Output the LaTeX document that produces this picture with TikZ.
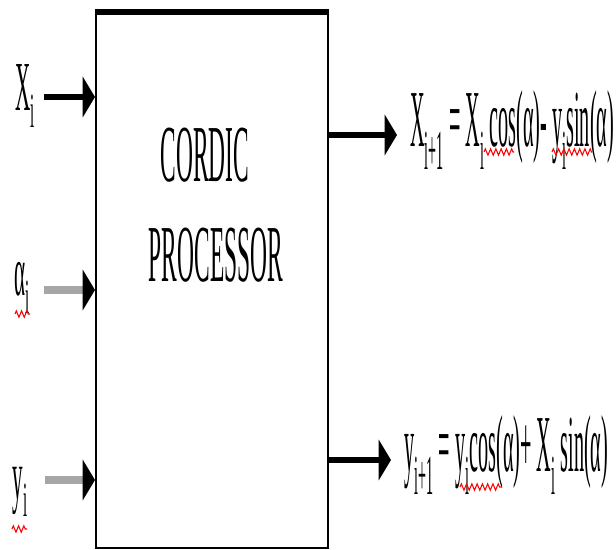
\documentclass[tikz,border=0pt]{standalone}
\usepackage{fontspec}
\usepackage{graphicx}
\setmainfont{Liberation Serif}
\usetikzlibrary{arrows.meta,decorations.pathmorphing,positioning}

% squeeze text sideways, the letters in the figure are tall and narrow
\newcommand{\narrow}[2][0.3]{\scalebox{#1}[1]{#2}}

\tikzset{
    procbox/.style={draw, line width=1.2pt, minimum width=4.64cm, minimum height=10.7cm, inner sep=0pt},
    title/.style={inner sep=0pt, font=\fontsize{46}{50}\selectfont},
    sig/.style={inner sep=0pt, font=\fontsize{40}{44}\selectfont},
    eqn/.style={inner sep=0pt, anchor=west, font=\fontsize{46}{50}\selectfont},
    inarrow/.style={line width=3.2pt, -{Triangle[length=7pt, width=23pt]}},
    grayarrow/.style={line width=4.5pt, gray!70, -{Triangle[length=7pt, width=23pt, color=black]}},
    spell/.style={red, line width=0.6pt, decorate, decoration={zigzag, amplitude=1.8pt, segment length=3pt}}
}

\begin{document}
\begin{tikzpicture}[x=0.02cm, y=-0.02cm]
    \useasboundingbox (0,0) rectangle (616,550);

    % Processor block
    \node[procbox] (proc) at (212,280.5) {};
    \draw[line width=3pt] (proc.north west) -- (proc.north east);
    \node[title] (cordic) at (205,155) {\narrow[0.29]{CORDIC}};
    \node[title] (processor) at (216,255) {\narrow[0.29]{PROCESSOR}};

    % Inputs
    \node[sig] (xin) at (25,96) {\narrow{X\textsubscript{i}}};
    \node[sig] (ain) at (22,288) {\narrow{α\textsubscript{i}}};
    \node[sig] (yin) at (20,492) {\narrow{y\textsubscript{i}}};
    \draw[inarrow] ([xshift=5pt]xin.east |- 0,97) -- (proc.west |- 0,97);
    \draw[grayarrow] ([xshift=8pt]ain.east |- 0,290) -- (proc.west |- 0,290);
    \draw[grayarrow] ([xshift=10pt]yin.east |- 0,480) -- (proc.west |- 0,480);

    % Outputs
    \node[eqn] (xnext) at (410,130) {\narrow[0.25]{X\textsubscript{i+1} = X\textsubscript{i} cos(α)- y\textsubscript{i}sin(α)}};
    \node[eqn] (ynext) at (404,455) {\narrow[0.25]{y\textsubscript{i+1} = y\textsubscript{i}cos(α)+ X\textsubscript{i} sin(α)}};
    \coordinate (xo) at (397,135);
    \coordinate (yo) at (391,460);
    \draw[inarrow] (proc.east |- xo) -- (xo);
    \draw[inarrow] (proc.east |- yo) -- (yo);

    % spell-check marks
    \draw[spell] (15,314) -- (30,314);
    \draw[spell] (12,529) -- (27,529);
    \draw[spell] (484,152) -- (514,152);
    \draw[spell] (552,152) -- (592,152);
    \draw[spell] (460,487) -- (502,487);
\end{tikzpicture}
\end{document}
